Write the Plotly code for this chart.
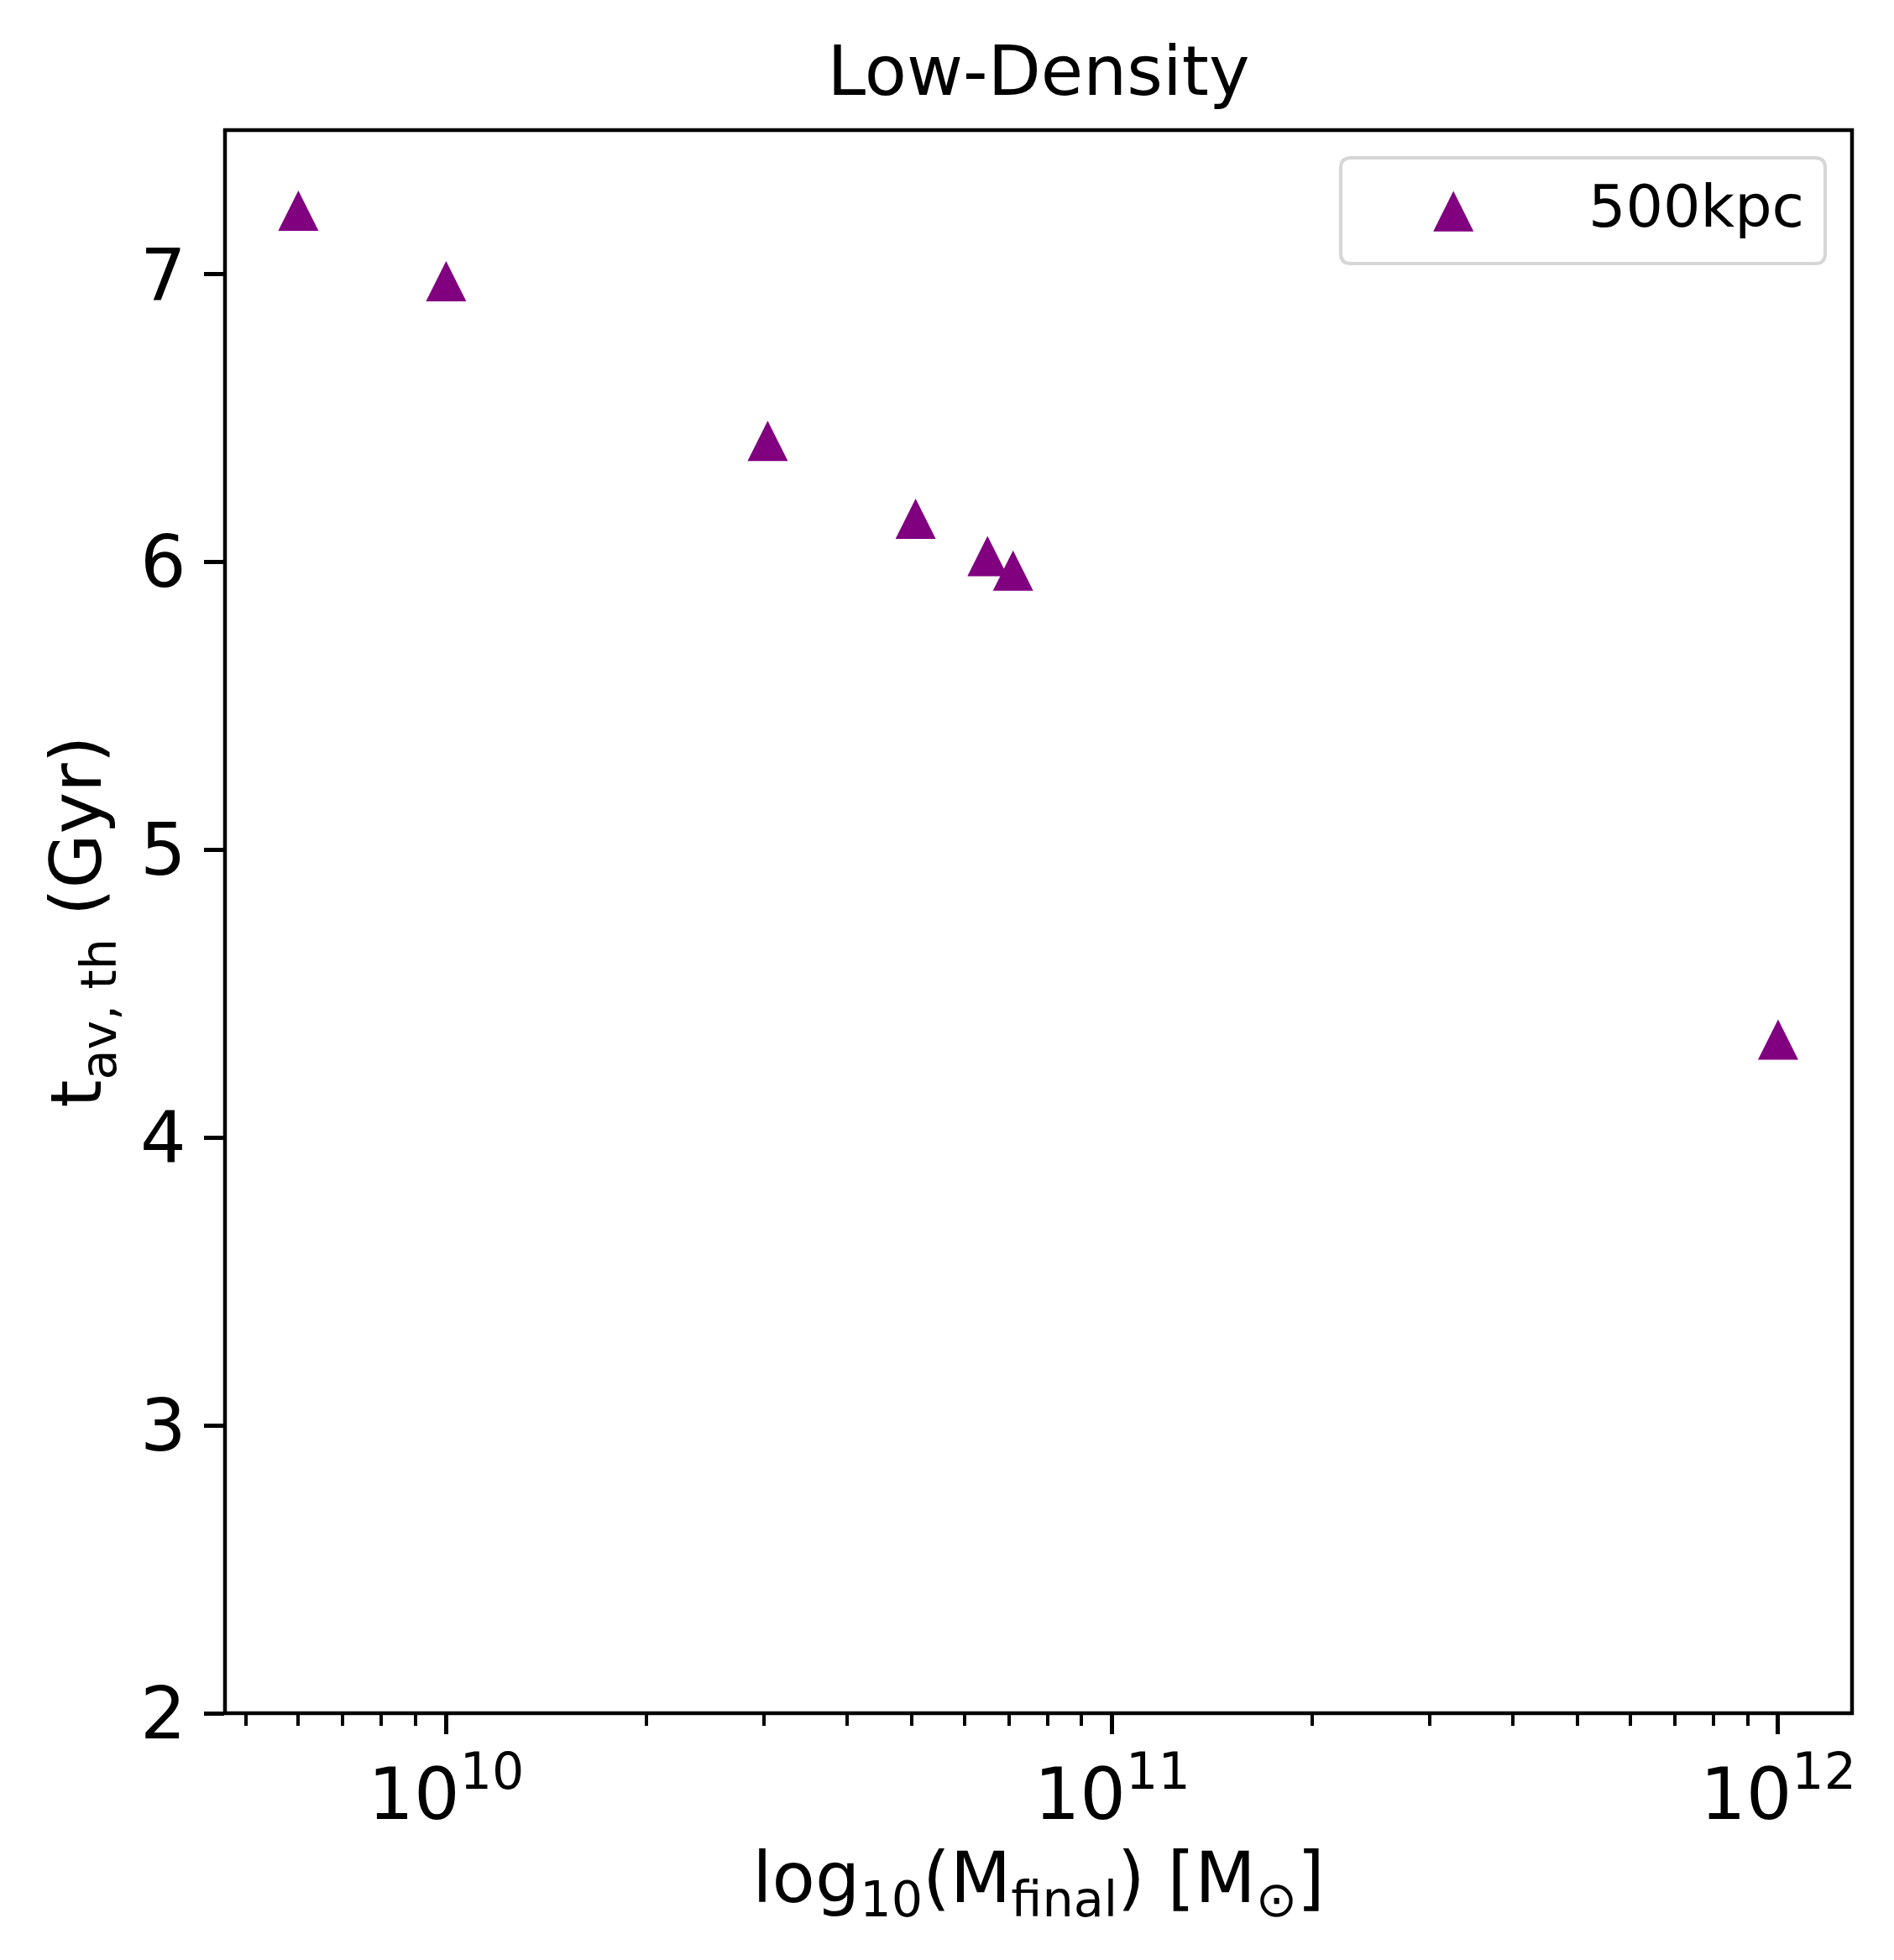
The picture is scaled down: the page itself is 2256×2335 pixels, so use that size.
import plotly.graph_objects as go

# final halo mass [Msun] and average thermalisation time [Gyr], 500 kpc runs
mass_final = [6.0e9, 1.0e10, 3.04e10, 5.07e10, 6.5e10, 7.1e10, 1.0e12]
t_av_th = [7.22, 6.975, 6.42, 6.15, 6.02, 5.97, 4.34]
series_name = "500kpc"

x_major = [1e10, 1e11, 1e12]
x_major_text = ["10<sup>10</sup>", "10<sup>11</sup>", "10<sup>12</sup>"]
x_minor = [m * 10 ** e for e in (9, 10, 11) for m in range(2, 10)]

# the page body has an 8px margin, so the figure is a bit smaller than the window
PAGE = 8
W, H = 2256 - 2 * PAGE, 2335 - 2 * PAGE
ml, mr, mt, mb = 260, 42, 147, 286
FONT = "DejaVu Sans"
purple = "#800080"

fig = go.Figure()

# matplotlib-like '^' marker: arrow-down turned round and pulled back onto the point
msize = 48
fig.add_trace(go.Scatter(
    x=mass_final, y=t_av_th,
    mode="markers",
    name=series_name,
    showlegend=False,
    marker=dict(symbol="arrow-down", angle=180, standoff=msize / 2,
                size=msize, color=purple, line=dict(width=0)),
))

axis_common = dict(
    showline=False,
    ticks="outside", ticklen=24, tickwidth=4.5, tickcolor="black",
    showgrid=False, zeroline=False,
    tickfont=dict(family=FONT, size=86, color="black"),
)

fig.update_xaxes(
    type="log", range=[9.668, 12.111],
    tickvals=x_major, ticktext=x_major_text, ticklabeloverflow="allow",
    ticklabelstandoff=-2,
    minor=dict(tickvals=x_minor, ticks="outside", ticklen=14,
               tickwidth=3.5, tickcolor="black", showgrid=False),
    title=dict(text="log<sub>10</sub>(M<sub>final</sub>) [M<sub>⊙</sub>]",
               font=dict(family=FONT, size=84, color="black"), standoff=20),
    **axis_common,
)
fig.update_yaxes(
    range=[2, 7.5], dtick=1, ticklabelstandoff=4,
    title=dict(text="t<sub>av, th</sub> (Gyr)",
               font=dict(family=FONT, size=84, color="black"), standoff=18),
    **axis_common,
)

# axes frame centred on the plot edges, like matplotlib spines
fig.add_shape(type="rect", xref="paper", yref="paper", x0=0, x1=1, y0=0, y1=1,
              line=dict(color="black", width=4.5), layer="above")

# legend box drawn by hand so the symbol keeps its real size
def px(xp):
    return (xp - PAGE - ml) / (W - ml - mr)

def py(yp):
    return (H - mb - (yp - PAGE)) / (H - mt - mb)

x0, x1, y0, y1 = px(1597), px(2174), py(314), py(188)
rx, ry = 12 / (W - ml - mr), 12 / (H - mt - mb)
box = (f"M{x0 + rx},{y0} L{x1 - rx},{y0} Q{x1},{y0} {x1},{y0 + ry} "
       f"L{x1},{y1 - ry} Q{x1},{y1} {x1 - rx},{y1} L{x0 + rx},{y1} "
       f"Q{x0},{y1} {x0},{y1 - ry} L{x0},{y0 + ry} Q{x0},{y0} {x0 + rx},{y0} Z")
fig.add_shape(type="path", path=box, xref="paper", yref="paper",
              line=dict(color="#d6d6d6", width=4), fillcolor="rgba(255,255,255,0.8)")
fig.add_annotation(x=px(1731), y=py(246), xref="paper", yref="paper",
                   text="▲", showarrow=False, xanchor="center", yanchor="middle",
                   font=dict(family=FONT, size=63, color=purple))
fig.add_annotation(x=px(1890), y=py(246), xref="paper", yref="paper",
                   text=series_name, showarrow=False, xanchor="left", yanchor="middle",
                   font=dict(family=FONT, size=70, color="black"))

fig.update_layout(
    width=W, height=H,
    margin=dict(l=ml, r=mr, t=mt, b=mb, autoexpand=False),
    paper_bgcolor="white", plot_bgcolor="white",
    title=dict(text="Low-Density", x=(1237 - PAGE) / W,
               xanchor="center", y=1 - (84 - PAGE) / H, yanchor="middle",
               font=dict(family=FONT, size=82, color="black")),
    font=dict(family=FONT, color="black"),
)

fig.write_html("out.html")
